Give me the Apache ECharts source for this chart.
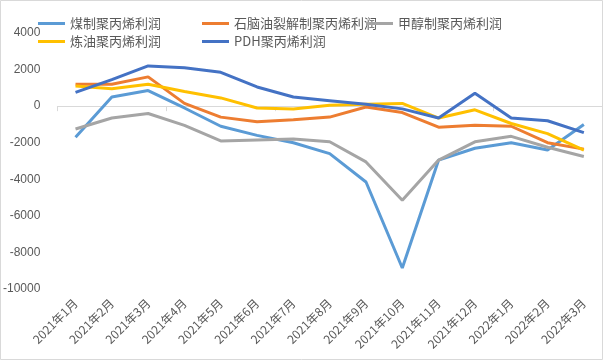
<!DOCTYPE html>
<html><head><meta charset="utf-8">
<script src="https://cdn.jsdelivr.net/npm/echarts@6/dist/echarts.min.js"></script>
<style>html,body{margin:0;padding:0;background:#fff}#c{width:604px;height:361px}</style>
</head><body><div id="c"></div>
<script>
var categories = ['2021年1月','2021年2月','2021年3月','2021年4月','2021年5月','2021年6月','2021年7月','2021年8月','2021年9月','2021年10月','2021年11月','2021年12月','2022年1月','2022年2月','2022年3月'];
var coal = [-1700, 500, 850, -100, -1100, -1600, -2000, -2600, -4150, -8850, -2950, -2300, -2000, -2400, -1000];
var naphtha = [1200, 1200, 1600, 150, -600, -850, -750, -600, -50, -350, -1150, -1050, -1100, -2000, -2350];
var methanol = [-1250, -650, -400, -1050, -1900, -1850, -1800, -1950, -3050, -5150, -2950, -1950, -1650, -2250, -2750];
var refinery = [1100, 950, 1200, 800, 450, -100, -150, 50, 100, 150, -650, -200, -950, -1500, -2400];
var pdh = [750, 1450, 2200, 2100, 1850, 1050, 500, 300, 100, -150, -650, 700, -650, -800, -1450];
var names = ['煤制聚丙烯利润','石脑油裂解制聚丙烯利润','甲醇制聚丙烯利润','炼油聚丙烯利润','PDH聚丙烯利润'];
var colors = ['#5B9BD5','#ED7D31','#A5A5A5','#FFC000','#4472C4'];
var values = [coal, naphtha, methanol, refinery, pdh];

var chart = echarts.init(document.getElementById('c'));
var legendBase = {orient:'vertical', top:12, itemWidth:27, itemHeight:3, itemGap:5, icon:'rect',
  textStyle:{color:'#595959', fontSize:13, fontFamily:'Noto Sans CJK SC'}};
chart.setOption({
  animation:false,
  backgroundColor:'#fff',
  legend:[
    Object.assign({left:33, data:[names[0], names[3]]}, legendBase),
    Object.assign({left:197, data:[names[1], names[4]]}, legendBase),
    Object.assign({left:361, data:[names[2]]}, legendBase)
  ],
  graphic:[{type:'rect', shape:{x:0.5,y:0.5,width:602,height:359}, style:{fill:'none', stroke:'#d9d9d9', lineWidth:1}, silent:true}],
  grid:{left:57, right:2, top:33, bottom:72},
  xAxis:[
    {type:'category', data:categories, boundaryGap:true,
     axisLine:{onZero:true, lineStyle:{color:'#d9d9d9', width:1}},
     axisTick:{show:true, length:5, lineStyle:{color:'#d9d9d9'}},
     axisLabel:{show:false}},
    {type:'category', data:categories, position:'bottom', boundaryGap:true,
     axisLine:{show:false, onZero:false}, axisTick:{show:false},
     axisLabel:{rotate:45, color:'#595959', fontSize:12, margin:12, interval:0, fontFamily:'Noto Sans CJK SC'}}
  ],
  yAxis:{type:'value', min:-10000, max:4000, interval:2000,
    axisLine:{show:false}, axisTick:{show:false}, splitLine:{show:false},
    axisLabel:{color:'#595959', fontSize:12, margin:17, fontFamily:'Liberation Sans',
      formatter:function(v){return String(v);}}},
  series: names.map(function(n,i){
    return {name:n, type:'line', xAxisIndex:0, data:values[i], symbol:'none',
      lineStyle:{width:3, color:colors[i]}, itemStyle:{color:colors[i]}};
  })
});
</script></body></html>
